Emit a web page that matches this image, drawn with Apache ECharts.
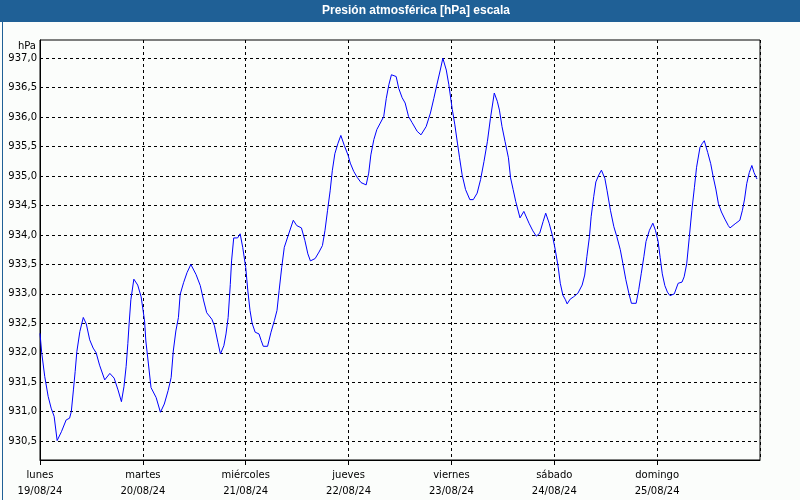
<!DOCTYPE html>
<html>
<head>
<meta charset="utf-8">
<script src="https://cdn.jsdelivr.net/npm/echarts@6/dist/echarts.min.js"></script>
<style>
html,body{margin:0;padding:0;background:#fbfdfb;}
#chart{width:800px;height:500px;}
</style>
</head>
<body>
<div id="chart"></div>
<script>
const titleText = 'Presión atmosférica [hPa] escala';
const unitLabel = 'hPa';
const days = ['lunes', 'martes', 'miércoles', 'jueves', 'viernes', 'sábado', 'domingo'];
const dates = ['19/08/24', '20/08/24', '21/08/24', '22/08/24', '23/08/24', '24/08/24', '25/08/24'];
const yTicks = [930.5, 931.0, 931.5, 932.0, 932.5, 933.0, 933.5, 934.0, 934.5, 935.0, 935.5, 936.0, 936.5, 937.0];

// hours since Monday 19/08/24 00:00
const hours = [
  0.0, 0.4, 1.1, 1.9, 2.6, 3.3, 4.0, 5.0, 6.1, 6.9, 7.3, 7.8, 8.2, 8.6, 9.3, 10.1, 10.8, 11.6, 12.4, 13.1,
  13.9, 15.1, 16.3, 17.3, 18.2, 19.0, 19.6, 20.1, 20.5, 20.8, 21.2, 21.9, 22.8, 23.6, 24.4, 24.7, 25.3, 25.9, 27.1, 28.1,
  29.0, 29.9, 30.6, 31.1, 31.7, 32.3, 32.7, 33.5, 34.3, 35.2, 36.4, 37.4, 38.2, 38.9, 40.1, 40.7, 41.5, 42.1, 42.9, 43.4,
  43.9, 44.4, 44.7, 45.2, 46.1, 46.7, 47.3, 48.0, 48.5, 49.0, 49.5, 50.2, 51.1, 51.6, 52.1, 53.1, 53.9, 54.7, 55.3, 55.8,
  56.4, 57.0, 57.9, 59.1, 59.9, 61.0, 61.8, 62.5, 63.1, 64.2, 65.1, 65.9, 66.5, 67.1, 67.7, 68.2, 68.8, 69.5, 70.2, 71.0,
  71.9, 72.4, 73.2, 74.0, 74.9, 76.1, 76.7, 77.2, 77.9, 78.6, 79.4, 80.2, 80.8, 81.4, 82.0, 83.1, 83.7, 84.5, 85.2, 86.0,
  86.8, 88.0, 88.9, 90.1, 91.1, 91.9, 92.6, 93.4, 94.0, 94.8, 95.4, 96.2, 96.8, 97.4, 97.9, 98.5, 99.3, 100.3, 101.1, 102.0,
  102.8, 103.6, 104.4, 105.1, 106.0, 106.7, 107.2, 107.8, 108.5, 109.3, 109.8, 110.4, 111.0, 112.0, 112.9, 114.1, 115.0, 115.8, 116.6, 117.4,
  118.0, 118.8, 119.6, 120.2, 120.9, 121.4, 122.0, 122.6, 123.0, 123.7, 124.5, 125.5, 126.5, 127.1, 127.6, 128.2, 128.6, 129.2, 129.7, 130.4,
  131.0, 131.8, 132.3, 133.1, 133.9, 134.6, 135.4, 136.0, 136.7, 137.4, 138.0, 139.1, 139.7, 140.3, 140.9, 141.4, 142.2, 143.0, 143.6, 144.2,
  144.7, 145.2, 145.8, 146.4, 147.0, 148.0, 148.9, 149.8, 150.3, 150.9, 151.5, 152.1, 152.7, 153.2, 154.0, 154.5, 155.0, 155.8, 156.5, 157.1,
  157.7, 158.3, 159.0, 159.8, 160.6, 161.0, 162.2, 163.3, 163.9, 164.4, 164.9, 165.5, 166.1, 166.6, 167.1, 167.3
];
const pressure = [
  932.33, 932.0, 931.6, 931.26, 931.06, 930.92, 930.51, 930.66, 930.86, 930.89, 931.0, 931.37, 931.68, 932.02, 932.36, 932.6, 932.49, 932.22, 932.08, 932.0,
  931.79, 931.54, 931.65, 931.57, 931.37, 931.17, 931.43, 931.77, 932.16, 932.5, 932.9, 933.25, 933.15, 932.95, 932.54, 932.2, 931.81, 931.41, 931.24, 930.99,
  931.13, 931.36, 931.58, 932.03, 932.37, 932.6, 932.99, 933.19, 933.36, 933.5, 933.33, 933.14, 932.88, 932.68, 932.57, 932.46, 932.18, 931.98, 932.12, 932.32,
  932.6, 933.16, 933.56, 933.95, 933.95, 934.02, 933.79, 933.45, 933.05, 932.72, 932.5, 932.35, 932.32, 932.21, 932.11, 932.11, 932.35, 932.55, 932.72, 933.06,
  933.45, 933.79, 933.99, 934.25, 934.16, 934.12, 933.91, 933.68, 933.56, 933.6, 933.71, 933.82, 934.08, 934.42, 934.75, 935.09, 935.38, 935.55, 935.69, 935.52,
  935.35, 935.22, 935.08, 934.98, 934.89, 934.85, 935.05, 935.36, 935.62, 935.79, 935.9, 936.01, 936.32, 936.55, 936.72, 936.69, 936.49, 936.33, 936.24, 936.01,
  935.91, 935.76, 935.7, 935.84, 936.07, 936.32, 936.55, 936.8, 937.0, 936.8, 936.55, 936.13, 935.87, 935.56, 935.31, 935.02, 934.77, 934.6, 934.6, 934.71,
  934.94, 935.25, 935.59, 935.98, 936.41, 936.27, 936.12, 935.84, 935.59, 935.31, 934.97, 934.77, 934.57, 934.29, 934.4, 934.2, 934.07, 933.98, 934.03, 934.23,
  934.37, 934.2, 933.98, 933.76, 933.46, 933.18, 932.98, 932.9, 932.83, 932.91, 932.95, 933.01, 933.15, 933.32, 933.63, 933.97, 934.31, 934.65, 934.9, 935.02,
  935.1, 934.96, 934.76, 934.42, 934.14, 933.97, 933.75, 933.52, 933.24, 933.01, 932.84, 932.84, 933.07, 933.35, 933.63, 933.89, 934.08, 934.2, 934.08, 933.9,
  933.62, 933.34, 933.14, 933.03, 932.97, 933.0, 933.18, 933.2, 933.29, 933.51, 933.96, 934.42, 934.81, 935.15, 935.49, 935.55, 935.6, 935.4, 935.21, 934.98,
  934.78, 934.53, 934.39, 934.27, 934.16, 934.12, 934.19, 934.25, 934.42, 934.61, 934.87, 935.06, 935.18, 935.06, 934.98, 934.95
];

const chart = echarts.init(document.getElementById('chart'), null, {renderer: 'canvas'});
const txtFont = 'DejaVu Sans';

chart.setOption({
  backgroundColor: '#fbfdfb',
  animation: false,
  graphic: [
    {type: 'rect', left: 0, top: 0, shape: {x: 0, y: 0, width: 800, height: 22}, style: {fill: '#1f6096'}, z: 0},
    {type: 'rect', left: 0, top: 0, shape: {x: 0.5, y: 0.5, width: 799, height: 499}, style: {fill: 'none', stroke: '#1f6096', lineWidth: 1}, z: 0},
    {type: 'text', x: 416, y: 11, style: {text: titleText, fill: '#ffffff', font: 'bold 12px "Liberation Sans"', textAlign: 'center', textVerticalAlign: 'middle'}, z: 10}
  ],
  grid: {left: 40, right: 40, top: 40, bottom: 40, show: true, borderColor: '#000', borderWidth: 1, backgroundColor: 'transparent'},
  xAxis: {
    type: 'value', min: 0, max: 168, interval: 24,
    axisLine: {show: true, lineStyle: {color: '#000', width: 1}},
    axisTick: {show: true, length: 5, lineStyle: {color: '#000'}},
    splitLine: {show: true, lineStyle: {color: '#000', type: [3, 3], width: 1}},
    axisLabel: {
      color: '#000', fontFamily: txtFont, fontSize: 10, lineHeight: 16, margin: 7,
      showMaxLabel: false,
      formatter: function (v) {
        const i = Math.round(v / 24);
        if (i >= days.length) return '';
        return days[i] + '\n' + dates[i];
      }
    }
  },
  yAxis: {
    type: 'value', min: 930.18, max: 937.31,
    name: unitLabel, nameLocation: 'end', nameGap: -6,
    nameTextStyle: {color: '#000', fontFamily: txtFont, fontSize: 10, align: 'right', verticalAlign: 'middle', padding: [0, 4, 0, 0]},
    axisLine: {show: true, lineStyle: {color: '#000'}},
    axisTick: {show: false, customValues: yTicks},
    splitLine: {show: true, lineStyle: {color: '#000', type: [3, 3], width: 1}},
    axisLabel: {
      color: '#000', fontFamily: txtFont, fontSize: 10, margin: 3,
      customValues: yTicks,
      formatter: function (v) { return v.toFixed(1).replace('.', ','); }
    }
  },
  series: [{
    type: 'line',
    data: hours.map((h, i) => [h, pressure[i]]),
    showSymbol: false,
    lineStyle: {color: '#0000ff', width: 1},
    itemStyle: {color: '#0000ff'}
  }]
});
</script>
</body>
</html>
